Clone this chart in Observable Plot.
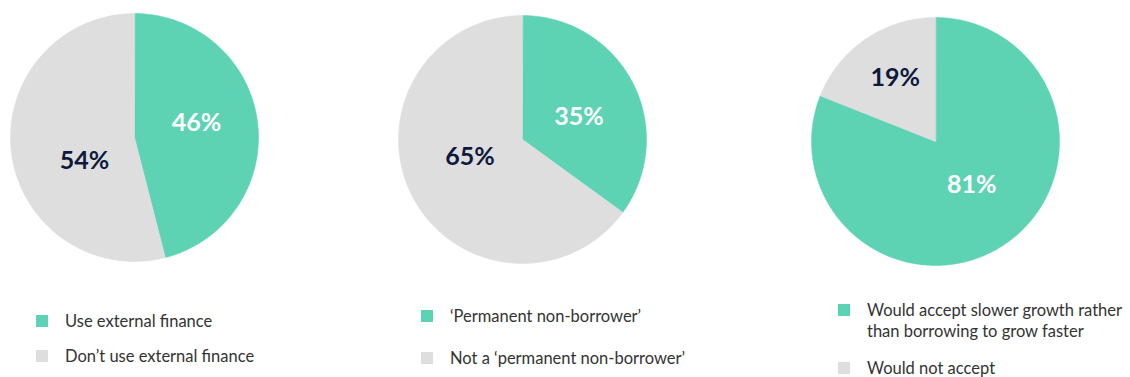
<!DOCTYPE html>
<html>
<head>
<meta charset="utf-8">
<script src="https://cdn.jsdelivr.net/npm/d3@7"></script>
<script src="https://cdn.jsdelivr.net/npm/@observablehq/plot@0.6"></script>
<style>
  html, body { margin: 0; padding: 0; background: #fff; }
  #wrap { position: relative; width: 1130px; height: 377px; overflow: hidden; font-family: Lato, "Open Sans", sans-serif; }
  #chart svg { display: block; }
  .item { position: absolute; display: flex; align-items: flex-start; color: #333; font-size: 16.5px; line-height: 21px; }
  .sw { width: 12px; height: 12px; flex: none; margin-top: 4px; }
  .txt { margin-left: 17px; }
</style>
</head>
<body>
<div id="wrap">
  <div id="chart"></div>
  <div id="legend"></div>
</div>
<script>
// ---- data ----
const charts = ["External finance", "Permanent non-borrower", "Slower growth"];
const greenValues = [46, 35, 81];
const greyValues = [54, 65, 19];
const greenLabels = ["Use external finance", "‘Permanent non-borrower’", "Would accept slower growth rather than borrowing to grow faster"];
const greyLabels = ["Don’t use external finance", "Not a ‘permanent non-borrower’", "Would not accept"];

// ---- layout / style ----
const GREEN = "#5dd3b4", GREY = "#dedede", NAVY = "#0e1a3d";
const W = 1130, H = 290;
const centers = [[134, 137], [522, 139], [935, 141]];
const R = 124;
const labelDist = 0.52;
// small hand-placement nudges of the percentage labels [green, grey] (dx, dy in px)
const labelNudge = [[[-2, -6], [14, 15]], [[-1, 7], [5, -12]], [[0, -10], [-4, -10]]];

const slices = [];
const labels = [];
charts.forEach((c, i) => {
  const parts = [
    {kind: "yes", value: greenValues[i]},
    {kind: "no", value: greyValues[i]}
  ];
  const total = d3.sum(parts, p => p.value);
  let acc = 0;
  const [cx, cy] = centers[i];
  parts.forEach((p, j) => {
    const a0 = acc / total * 2 * Math.PI;
    acc += p.value;
    const a1 = acc / total * 2 * Math.PI;
    const id = c + "-" + p.kind;
    const n = Math.max(2, Math.ceil((a1 - a0) / (Math.PI / 180)));
    slices.push({id, kind: p.kind, x: cx, y: cy});
    for (let k = 0; k <= n; k++) {
      const a = a0 + (a1 - a0) * k / n;
      slices.push({id, kind: p.kind, x: cx + R * Math.sin(a), y: cy - R * Math.cos(a)});
    }
    const am = (a0 + a1) / 2;
    labels.push({
      text: p.value + "%",
      kind: p.kind,
      x: cx + R * labelDist * Math.sin(am),
      y: cy - R * labelDist * Math.cos(am),
      dx: labelNudge[i][j][0],
      dy: labelNudge[i][j][1]
    });
  });
});

const plot = Plot.plot({
  width: W,
  height: H,
  margin: 0,
  x: {type: "linear", domain: [0, W], range: [0, W], axis: null},
  y: {type: "linear", domain: [0, H], range: [0, H], axis: null},
  color: {type: "ordinal", domain: ["yes", "no"], range: [GREEN, GREY]},
  marks: [
    Plot.line(slices, {x: "x", y: "y", z: "id", fill: "kind", stroke: "kind", strokeWidth: 0.5, curve: "linear-closed"}),
    Plot.text(labels, {
      x: d => d.x + d.dx, y: d => d.y + d.dy, text: "text",
      fill: d => d.kind === "yes" ? "#ffffff" : NAVY,
      fontSize: 25, fontWeight: "bold", fontFamily: "Lato, 'Open Sans', sans-serif"
    })
  ]
});
document.getElementById("chart").appendChild(plot);

// ---- legend (HTML below the SVG) ----
const legendPos = [
  {x: 36, yGreen: 311, yGrey: 346, w: 320},
  {x: 421, yGreen: 306, yGrey: 348, w: 320},
  {x: 838, yGreen: 300, yGrey: 358, w: 292}
];
const leg = document.getElementById("legend");
charts.forEach((c, i) => {
  const pos = legendPos[i];
  [[GREEN, greenLabels[i], pos.yGreen], [GREY, greyLabels[i], pos.yGrey]].forEach(([col, txt, y]) => {
    const it = document.createElement("div");
    it.className = "item";
    it.style.left = pos.x + "px";
    it.style.top = y + "px";
    it.style.width = pos.w + "px";
    const sw = document.createElement("div");
    sw.className = "sw";
    sw.style.background = col;
    const t = document.createElement("div");
    t.className = "txt";
    t.textContent = txt;
    it.appendChild(sw);
    it.appendChild(t);
    leg.appendChild(it);
  });
});
</script>
</body>
</html>
